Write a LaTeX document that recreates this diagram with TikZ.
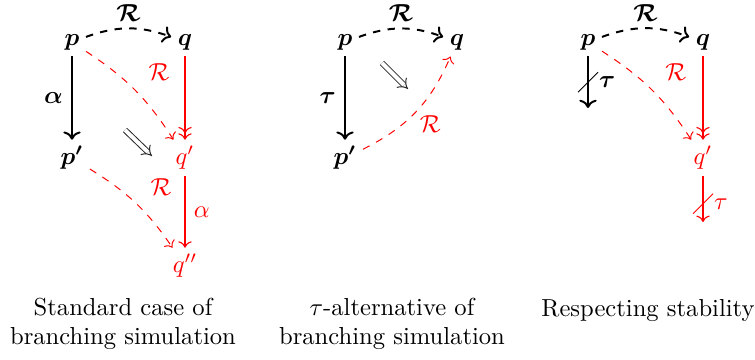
\documentclass[tikz,border=0pt]{standalone}
\usepackage{amsmath,bm}
\usetikzlibrary{arrows.meta,calc}
\begin{document}
\begin{tikzpicture}[x=0.4065pt,y=-0.4065pt,
  st/.style={inner sep=2.5pt},
  blk/.style={thick,->},
  rel/.style={thick,dashed,->},
  redv/.style={red,line width=0.45pt,->>},
  reds/.style={red,line width=0.45pt,->},
  redd/.style={red,dashed,->},
  toplbl/.style={above=1.5pt,inner sep=1pt},
  redlbl/.style={red,anchor=west,pos=0.3,xshift=9pt,yshift=1pt},
  impl/.style={double,double distance=1.6pt,-{Implies},black!85},
  captext/.style={align=center}]
\useasboundingbox (0,0) rectangle (755,360);
% ---------- diagram 1
\node[st] (p1) at (72,42) {$\bm{p}$};
\node[st] (q1) at (185,42) {$\bm{q}$};
\node[st] (pp1) at (72,158) {$\bm{p'}$};
\node[st,red] (qp1) at (185,158) {$q'$};
\node[st,red] (qpp1) at (185,266) {$q''$};
\draw[rel] (p1) to[bend left=20] node[toplbl] {$\bm{\mathcal{R}}$} (q1);
\draw[blk] (p1) -- node[left] {$\bm{\alpha}$} (pp1);
\draw[redv] (q1) -- (qp1);
\draw[redd] (p1) to[bend left=12] node[redlbl] {$\mathcal{R}$} (qp1);
\draw[redd] (pp1) to[bend left=12] node[redlbl] {$\mathcal{R}$} (qpp1);
\draw[reds] (qp1) -- node[right] {$\alpha$} (qpp1);
\coordinate (d1a) at (125,130);
\coordinate (d1b) at (152,156);
\draw[impl] (d1a) -- (d1b);
% ---------- diagram 2
\node[st] (p2) at (345,42) {$\bm{p}$};
\node[st] (q2) at (457,42) {$\bm{q}$};
\node[st] (pp2) at (345,158) {$\bm{p'}$};
\draw[rel] (p2) to[bend left=20] node[toplbl] {$\bm{\mathcal{R}}$} (q2);
\draw[blk] (p2) -- node[left] {$\bm{\tau}$} (pp2);
\draw[redd] (pp2) to[bend right=20] node[red,pos=0.5,below right=-2pt] {$\mathcal{R}$} (q2);
\coordinate (d2a) at (382,63);
\coordinate (d2b) at (408,89);
\draw[impl] (d2a) -- (d2b);
% ---------- diagram 3
\node[st] (p3) at (588,42) {$\bm{p}$};
\node[st] (q3) at (703,42) {$\bm{q}$};
\node[st,red] (qp3) at (703,158) {$q'$};
\coordinate (e3) at (588,108);
\coordinate (f3) at (703,222);
\draw[rel] (p3) to[bend left=20] node[toplbl] {$\bm{\mathcal{R}}$} (q3);
\draw[blk] (p3) -- coordinate[pos=0.5] (m3) (e3);
\draw (m3) ++(-10,10) -- ++(20,-20);
\node[right=1pt] (t3) at (m3) {$\bm{\tau}$};
\draw[redv] (q3) -- (qp3);
\draw[redd] (p3) to[bend left=12] node[redlbl] {$\mathcal{R}$} (qp3);
\draw[reds] (qp3) -- coordinate[pos=0.6] (n3) (f3);
\draw[red] (n3) ++(-10,10) -- ++(20,-20);
\node[red,right=1pt] (t3r) at (n3) {$\tau$};
% ---------- captions
\node[captext] (c1) at (123,324) {Standard case of\\branching simulation};
\node[captext] (c2) at (392,324) {$\tau$-alternative of\\branching simulation};
\node[captext] (c3) at (648,310) {Respecting stability};
\end{tikzpicture}
\end{document}
